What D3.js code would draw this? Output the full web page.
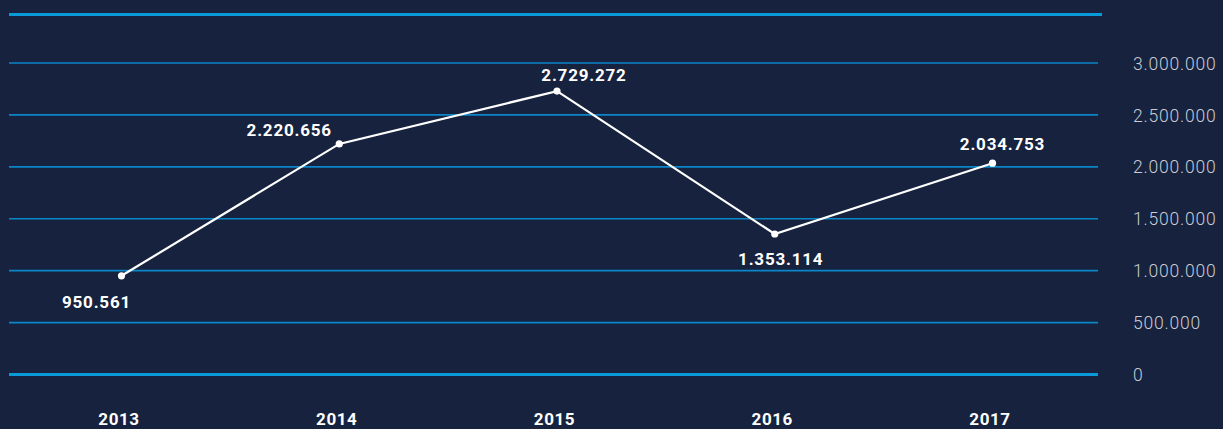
<!DOCTYPE html>
<html>
<head>
<meta charset="utf-8">
<script src="https://cdn.jsdelivr.net/npm/d3@7"></script>
<style>
  html, body { margin: 0; padding: 0; background: #16223e; }
  svg { display: block; }
</style>
</head>
<body>
<div id="chart"></div>
<script>
// data
var years = ["2013", "2014", "2015", "2016", "2017"];
var values = [950561, 2220656, 2729272, 1353114, 2034753];
var yTicks = [0, 500000, 1000000, 1500000, 2000000, 2500000, 3000000];

// label offsets from each point (layout only)
var labelOffsets = [[-25, 26], [-50, -14], [27, -16], [6, 25], [10, -19]];

var svgWidth = 1223;
var svgHeight = 429;

var svg = d3.select("#chart")
  .append("svg")
  .attr("width", svgWidth)
  .attr("height", svgHeight);

svg.append("rect")
  .attr("width", svgWidth)
  .attr("height", svgHeight)
  .attr("fill", "#16223e");

// scales
var xScale = d3.scalePoint()
  .domain(years)
  .range([121.5, 992.5]);

var yScale = d3.scaleLinear()
  .domain([0, 3000000])
  .range([374.5, 63]);

var fmt = function(v) {
  return d3.format(",")(v).replace(/,/g, ".");
};

// top border line
svg.append("line")
  .attr("x1", 9).attr("x2", 1102)
  .attr("y1", 14.5).attr("y2", 14.5)
  .attr("stroke", "#0a9ad9")
  .attr("stroke-width", 3);

// gridlines
svg.selectAll(".grid")
  .data(yTicks)
  .enter()
  .append("line")
  .attr("class", "grid")
  .attr("x1", 9).attr("x2", 1098)
  .attr("y1", d => yScale(d)).attr("y2", d => yScale(d))
  .attr("stroke", d => d === 0 ? "#0a9ad9" : "#0b86c9")
  .attr("stroke-width", d => d === 0 ? 3 : 1.6);

// right axis labels
var rightAxis = d3.axisRight(yScale)
  .tickValues(yTicks)
  .tickSize(0)
  .tickPadding(0)
  .tickFormat(fmt);

var axisG = svg.append("g")
  .attr("transform", "translate(1133, 0.5)")
  .call(rightAxis);
axisG.select(".domain").remove();
axisG.selectAll("text")
  .attr("fill", "#c9cdd7")
  .style("font-family", "Roboto, sans-serif")
  .style("font-weight", 300)
  .style("font-size", "17.5px")
  .style("letter-spacing", "0.8px");

// bottom axis labels
var bottomAxis = d3.axisBottom(xScale)
  .tickSize(0)
  .tickPadding(0);

var xAxisG = svg.append("g")
  .attr("transform", "translate(-3, 413)")
  .call(bottomAxis);
xAxisG.select(".domain").remove();
xAxisG.selectAll("text")
  .attr("fill", "#ffffff")
  .style("font-family", "Roboto, sans-serif")
  .style("font-weight", 700)
  .style("font-size", "17px")
  .style("letter-spacing", "0.6px");

// line
var line = d3.line()
  .x((d, i) => xScale(years[i]))
  .y(d => yScale(d));

svg.append("path")
  .datum(values)
  .attr("d", line)
  .attr("fill", "none")
  .attr("stroke", "#ffffff")
  .attr("stroke-width", 2.2);

svg.selectAll(".dot")
  .data(values)
  .enter()
  .append("circle")
  .attr("class", "dot")
  .attr("cx", (d, i) => xScale(years[i]))
  .attr("cy", d => yScale(d))
  .attr("r", 3.6)
  .attr("fill", "#ffffff");

// value labels
svg.selectAll(".val")
  .data(values)
  .enter()
  .append("text")
  .attr("class", "val")
  .attr("x", (d, i) => xScale(years[i]) + labelOffsets[i][0])
  .attr("y", (d, i) => yScale(d) + labelOffsets[i][1])
  .attr("dy", "0.35em")
  .attr("text-anchor", "middle")
  .attr("fill", "#ffffff")
  .style("font-family", "Roboto, sans-serif")
  .style("font-weight", 700)
  .style("font-size", "17px")
  .style("letter-spacing", "0.8px")
  .text(d => fmt(d));
</script>
</body>
</html>
